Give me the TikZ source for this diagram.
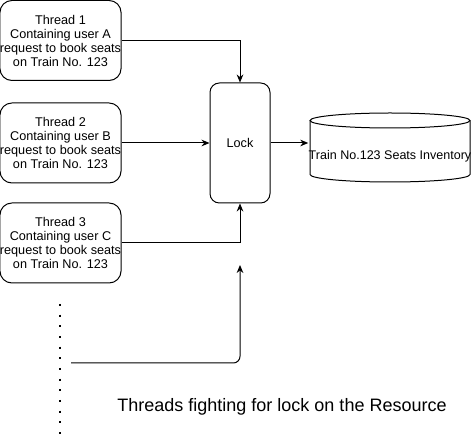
\documentclass[tikz,border=0pt]{standalone}
\usepackage{fontspec}
\setmainfont{Liberation Sans}
\usetikzlibrary{arrows.meta}

\tikzset{
	thread/.style={draw, rounded corners=9pt, minimum width=90pt, minimum height=60pt,
		align=center, inner sep=0pt, font=\fontsize{9.5}{10.5}\selectfont},
	lockbox/.style={draw, rounded corners=7pt, minimum width=45pt, minimum height=90pt,
		font=\fontsize{9.5}{10}\selectfont},
	store/.style={minimum width=120pt, inner sep=0pt, font=\fontsize{9.4}{10}\selectfont},
}

\begin{document}
\begin{tikzpicture}[x=0.75pt,y=-0.75pt,line width=0.75pt,>={Stealth[length=6pt,width=5pt]}]
	\useasboundingbox (0,0) rectangle (471,434);
	
	% the three threads
	\node[thread] (t1) at (60.5,40.5) {Thread 1\\Containing user A\\request to book seats\\on Train No. 123};
	\node[thread] (t2) at (60.5,143) {Thread 2\\Containing user B\\request to book seats\\on Train No. 123};
	\node[thread] (t3) at (60.5,243) {Thread 3\\Containing user C\\request to book seats\\on Train No. 123};
	
	\node[lockbox] (lock) at (240,143) {Lock};
	
	% seats inventory (cylinder)
	\node[store] (inv) at (390,156) {Train No.123 Seats Inventory};
	\draw (310,120.5) -- (310,174.5) arc[start angle=180, end angle=0, x radius=80, y radius=7.5] -- (470,120.5);
	\draw (390,120.5) ellipse [x radius=80, y radius=7.5];
	
	% more threads waiting
	\draw[line width=1.4pt, dash pattern=on 1.4pt off 6.6pt] (60,304) -- (60,434);
	\coordinate (more) at (71,363);
	\coordinate (gap) at (240,265);
	
	\draw[->] (t1.east) -| (lock.north);
	\draw[->] (t2.east) -- (lock.west);
	\draw[->] (t3.east) -| (lock.south);
	\draw[->, rounded corners=5pt] (more) -| (gap);
	\draw[->] (lock.east) -- (lock.east -| inv.west);
	
	\node[font=\fontsize{13.5}{15}\selectfont] (caption) at (282,407) {Threads fighting for lock on the Resource};
\end{tikzpicture}
\end{document}
